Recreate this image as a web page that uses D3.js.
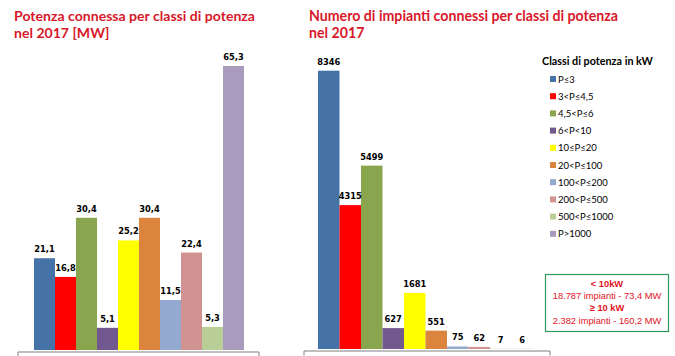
<!DOCTYPE html>
<html><head><meta charset="utf-8">
<script src="https://cdn.jsdelivr.net/npm/d3@7"></script>
<style>
html,body{margin:0;padding:0;background:#fff;}
svg{display:block;}
</style></head>
<body>
<svg id="c" width="675" height="356"></svg>
<script>
const classes = ["P≤3","3<P≤4,5","4,5<P≤6","6<P<10","10≤P≤20","20<P≤100","100<P≤200","200<P≤500","500<P≤1000","P>1000"];
const colors = ["#4572A7","#FF0000","#89A54E","#71588F","#FFFF00","#DB843D","#93A9CF","#D19392","#B9CD96","#A99BBD"];
const powerMW = [21.1,16.8,30.4,5.1,25.2,30.4,11.5,22.4,5.3,65.3];
const plantsCount = [8346,4315,5499,627,1681,551,75,62,7,6];
const titleLeft = ["Potenza connessa per classi di potenza","nel 2017 [MW]"];
const titleRight = ["Numero di impianti connessi per classi di potenza","nel 2017"];
const legendTitle = "Classi di potenza in kW";
const boxLines = ["< 10kW","18.787 impianti - 73,4 MW","≥ 10 kW","2.382 impianti - 160,2 MW"];

const svg = d3.select("#c");
const fmtIt = v => String(v).replace(".", ",");

function fitText(sel, target){
  const w = sel.node().getComputedTextLength();
  const fs = parseFloat(sel.attr("font-size"));
  sel.attr("font-size", (fs*target/w).toFixed(2));
}

// Titles
const titleColor = "#D7182A";
function title(lines, x, width){
  const fs = 15;
  const t1 = svg.append("text").attr("x",x).attr("y",21).attr("font-family","Lato, 'Open Sans', sans-serif")
    .attr("font-weight",700).attr("font-size",fs).attr("fill",titleColor).text(lines[0]);
  fitText(t1, width);
  svg.append("text").attr("x",x).attr("y",38).attr("font-family","Lato, 'Open Sans', sans-serif")
    .attr("font-weight",700).attr("font-size",t1.attr("font-size")).attr("fill",titleColor).text(lines[1]);
}
title(titleLeft, 14, 241);
title(titleRight, 309, 309);

function barChart(values, xRange, axisRange, baseline, yTopMax, maxVal, fmt){
  const x = d3.scaleBand().domain(classes).range(xRange).padding(0);
  const y = d3.scaleLinear().domain([0,maxVal]).range([baseline, yTopMax]);
  const g = svg.append("g");
  g.selectAll("rect").data(values).join("rect")
    .attr("x",(d,i)=>x(classes[i]))
    .attr("width",x.bandwidth())
    .attr("y",d=>y(d))
    .attr("height",d=>baseline-y(d))
    .attr("fill",(d,i)=>colors[i]);
  g.selectAll("text").data(values).join("text")
    .attr("x",(d,i)=>x(classes[i])+x.bandwidth()/2)
    .attr("y",d=>y(d)-6)
    .attr("text-anchor","middle")
    .attr("font-family","'DejaVu Sans', sans-serif")
    .attr("font-weight","bold")
    .attr("font-size",8.3)
    .attr("fill","#000")
    .text(d=>fmt(d));
  const ax = d3.scaleLinear().range(axisRange);
  const axis = d3.axisBottom(ax).tickValues([]).tickSizeOuter(5);
  const ag = svg.append("g").attr("transform",`translate(0,${baseline+1.5})`).call(axis);
  ag.select(".domain").attr("stroke","#7f7f7f");
}

barChart(powerMW, [34,244], [17.5,258.5], 350, 66, 65.3, fmtIt);
barChart(plantsCount, [318,533], [303.5,549.5], 349, 70.7, 8346, d=>String(d));

// Legend
svg.append("text").attr("x",542).attr("y",65).attr("font-family","Lato, 'Open Sans', sans-serif")
  .attr("font-weight",700).attr("font-size",11.5).attr("fill","#000").text(legendTitle)
  .call(s=>fitText(s,111));
const lg = svg.append("g");
const items = lg.selectAll("g").data(classes).join("g")
  .attr("transform",(d,i)=>`translate(550,${79+i*17.2})`);
items.append("rect").attr("x",0).attr("y",-3).attr("width",6).attr("height",6).attr("fill",(d,i)=>colors[i]);
items.append("text").attr("x",8).attr("y",3.5).attr("font-family","Lato, 'Open Sans', sans-serif")
  .attr("font-size",9.5).attr("fill","#000").text(d=>d);

// Summary box
svg.append("rect").attr("x",545.5).attr("y",274.5).attr("width",123).attr("height",57)
  .attr("fill","#fff").attr("stroke","#2E9A5A").attr("stroke-width",1.2);
const by = [287,299,311,323.5];
boxLines.forEach((t,i)=>{
  svg.append("text").attr("x",607).attr("y",by[i]).attr("text-anchor","middle")
    .attr("font-family","'Liberation Sans', Arial, sans-serif")
    .attr("font-size",9.3).attr("font-weight", i%2===0 ? "bold" : "normal")
    .attr("fill","#E0141E").text(t);
});
</script>
</body></html>
